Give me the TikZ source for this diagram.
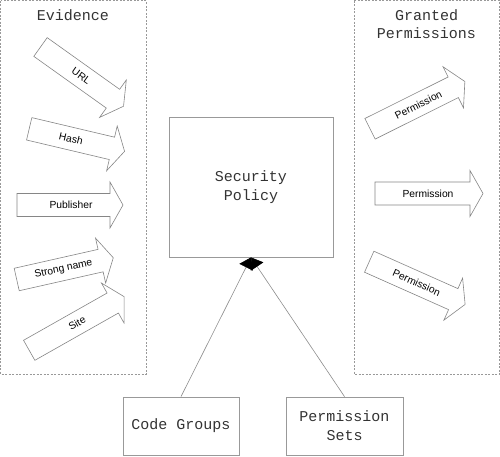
\documentclass[tikz,border=0pt]{standalone}
\usepackage{fontspec}
\setmainfont{Liberation Sans}
\newfontfamily\monofont{Liberation Mono}
\usetikzlibrary{arrows.meta}
\newcommand{\blockarrow}[7]{%
  \begin{scope}[shift={(#2,#3)}, rotate=#4]
    \draw[evarrow] (0,-11.5) -- ({#5-13},-11.5) -- ({#5-13},-23) -- (#5,0)
      -- ({#5-13},23) -- ({#5-13},11.5) -- (0,11.5) -- cycle;
    \node[arrowlabel, rotate=#4] (#1) at (#6,0) {#7};
  \end{scope}}
\begin{document}
\begin{tikzpicture}[x=1pt,y=-1pt,
  groupbox/.style={draw=gray!80, dash pattern=on 2pt off 1.5pt, line width=0.6pt},
  solidbox/.style={draw=gray!80, line width=0.8pt, inner sep=0pt, align=center,
    font=\monofont\fontsize{15}{19}\selectfont, text=black!80},
  title/.style={align=center, font=\monofont\fontsize{15}{18}\selectfont, text=black!80},
  evarrow/.style={draw=gray!95, line width=0.6pt, fill=white, line join=miter},
  arrowlabel/.style={font=\fontsize{10.3}{12}\selectfont, inner sep=0pt, text=black},
  conn/.style={draw=gray!90, line width=0.6pt,
    -{Triangle[length=11pt,width=15pt,color=black,fill=black]}}]
\useasboundingbox (0,0) rectangle (500,456);

% group boxes
\draw[groupbox] (0.5,0.5) rectangle (146,374);
\draw[groupbox] (354,0.5) rectangle (499.5,374);
\node[title] (evtitle) at (73,15) {Evidence};
\node[title] (grtitle) at (426.5,24) {Granted\\Permissions};

% evidence arrows
\blockarrow{url}{40.5}{47}{-35.5}{102}{50}{URL}
\blockarrow{hash}{29.2}{128.8}{-13.3}{98}{43}{Hash}
\blockarrow{pub}{17}{205}{0}{106}{54}{Publisher}
\blockarrow{strong}{16.7}{279.5}{12.7}{99}{48}{Strong name}
\blockarrow{site}{29.2}{350.3}{29.5}{109}{55}{Site}

% permission arrows
\blockarrow{perma}{370}{128.8}{26.5}{106}{54}{Permission}
\blockarrow{permb}{375}{193.5}{0}{108}{53}{Permission}
\blockarrow{permc}{369.2}{261.7}{-24}{105}{52}{Permission}

% central boxes
\node[solidbox, minimum width=164, minimum height=140] (policy) at (251,187) {Security\\Policy};
\node[solidbox, minimum width=116, minimum height=58] (cg) at (181,426) {Code Groups};
\node[solidbox, minimum width=117, minimum height=58] (ps) at (344.5,426) {Permission\\Sets};

% connectors
\draw[conn] (cg.north) -- (policy.south);
\draw[conn] (ps.north) -- (policy.south);
\end{tikzpicture}
\end{document}
